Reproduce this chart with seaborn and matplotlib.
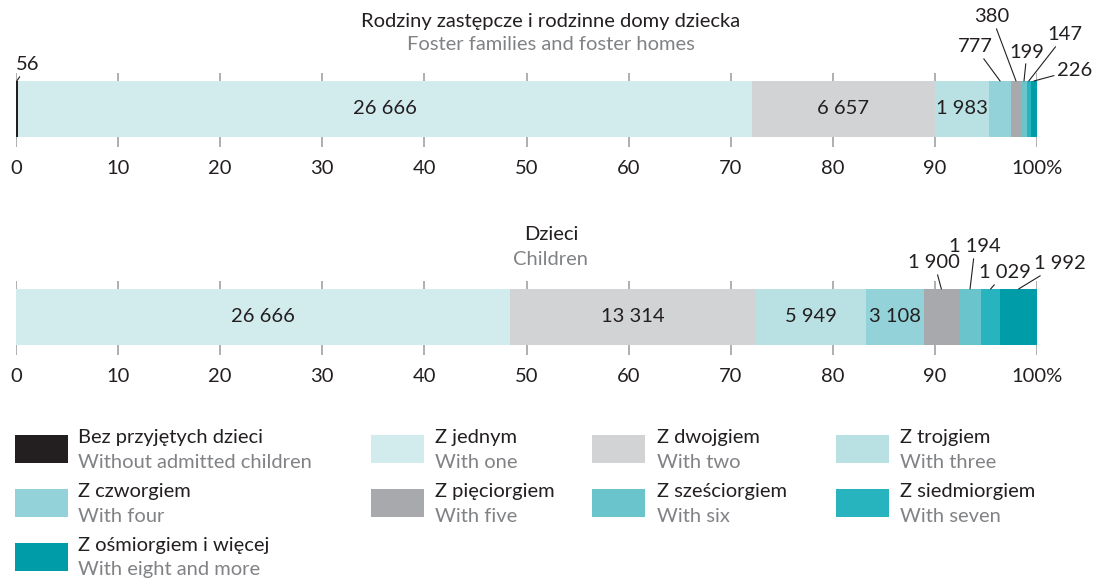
import matplotlib
matplotlib.use("Agg")
import matplotlib.pyplot as plt
from matplotlib.patches import Rectangle
import seaborn as sns
import pandas as pd
import numpy as np

labels_pl = ["Bez przyjętych dzieci", "Z jednym", "Z dwojgiem", "Z trojgiem",
             "Z czworgiem", "Z pięciorgiem", "Z sześciorgiem", "Z siedmiorgiem",
             "Z ośmiorgiem i więcej"]
labels_en = ["Without admitted children", "With one", "With two", "With three",
             "With four", "With five", "With six", "With seven",
             "With eight and more"]
colors = ["#231f20", "#d2ebed", "#d1d3d4", "#b9e1e3", "#93d2d8",
          "#a7a9ac", "#69c5cb", "#27b4be", "#009ca8"]

families = [56, 26666, 6657, 1983, 777, 380, 199, 147, 226]
children = [0, 26666, 13314, 5949, 3108, 1900, 1194, 1029, 1992]

tick_labels = ["0", "10", "20", "30", "40", "50", "60", "70", "80", "90", "100%"]

DARK = "#231f20"
GREY_TXT = "#808285"
GRID = "#a7a9ac"
FS = 14.5

sns.set_theme(style="white")
plt.rcParams["font.family"] = ["Lato", "DejaVu Sans"]

W, H = 1102, 580
fig = plt.figure(figsize=(W / 100, H / 100), dpi=100)


def px_axes(x0, y0, x1, y1):
    return fig.add_axes([x0 / W, 1 - y1 / H, (x1 - x0) / W, (y1 - y0) / H])


def fmt(v):
    return f"{v:,}".replace(",", " ")


def draw_bar(ax, counts, inside, callouts, bar_top, bar_bot, ax_top, ax_bot):
    pct = np.array(counts) / sum(counts) * 100
    cum = np.cumsum(pct)
    df = pd.DataFrame({"cat": labels_en, "cum": cum, "row": "r"})
    sns.barplot(data=df, x="cum", y="row", hue="cat", hue_order=labels_en[::-1],
                palette=dict(zip(labels_en, colors)), saturation=1, dodge=False,
                width=0.8, linewidth=0, errorbar=None, legend=False, ax=ax)
    ppu = (bar_bot - bar_top) / 0.8
    ax.set_ylim(0.4 + (ax_bot - bar_bot) / ppu, -0.4 - (bar_top - ax_top) / ppu)
    ax.set_xlim(0, 100)
    ax.set_xticks(range(0, 101, 10))
    ax.set_xticklabels(tick_labels)
    ax.grid(axis="x", color=GRID, lw=1.3)
    ax.grid(axis="y", visible=False)
    ax.set_axisbelow(True)
    ax.set_yticks([])
    ax.set_xlabel("")
    ax.set_ylabel("")
    for s in ax.spines.values():
        s.set_visible(False)
    ax.tick_params(axis="x", length=0, pad=9, labelsize=FS, labelcolor=DARK)

    starts = cum - pct
    mids = starts + pct / 2
    for i in inside:
        ax.text(mids[i], 0, fmt(counts[i]), ha="center", va="center",
                fontsize=FS, color=DARK)
    for i, (dx, dy) in callouts.items():
        ax.annotate(fmt(counts[i]), xy=(mids[i], -0.4), xytext=(dx, dy),
                    textcoords="offset pixels", ha="center", va="center",
                    fontsize=FS, color=DARK,
                    arrowprops=dict(arrowstyle="-", color=DARK, lw=0.8,
                                    shrinkA=0, shrinkB=0))


ax1 = px_axes(16, 73, 1037, 147)
draw_bar(ax1, families, [1, 2, 3],
         {0: (11, 16), 4: (-25, 34), 5: (-24, 64), 6: (3, 29), 7: (36, 46), 8: (41, 11)},
         81, 137, 73, 147)

ax2 = px_axes(16, 281, 1037, 355)
draw_bar(ax2, children, [1, 2, 3, 4],
         {5: (-7, 26), 6: (5, 42), 7: (14, 16), 8: (41, 25)},
         289, 345, 281, 355)

fig.text(0.5, 1 - 21 / H, "Rodziny zastępcze i rodzinne domy dziecka",
         ha="center", va="center", fontsize=FS, color=DARK)
fig.text(0.5, 1 - 45 / H, "Foster families and foster homes",
         ha="center", va="center", fontsize=FS, color=GREY_TXT)
fig.text(0.5, 1 - 235 / H, "Dzieci", ha="center", va="center", fontsize=FS, color=DARK)
fig.text(0.5, 1 - 259 / H, "Children", ha="center", va="center", fontsize=FS, color=GREY_TXT)

# legend drawn in pixel space
leg = fig.add_axes([0, 0, 1, 1])
leg.set_xlim(0, W)
leg.set_ylim(H, 0)
leg.axis("off")
col_patch = [15, 371, 592, 836]
col_text = [78, 435, 657, 900]
row_top = [435, 489, 543]
for i, (pl, en, c) in enumerate(zip(labels_pl, labels_en, colors)):
    r, k = divmod(i, 4)
    leg.add_patch(Rectangle((col_patch[k], row_top[r]), 53, 28, color=c, lw=0))
    leg.text(col_text[k], row_top[r] + 2, pl, ha="left", va="center",
             fontsize=FS, color=DARK)
    leg.text(col_text[k], row_top[r] + 27, en, ha="left", va="center",
             fontsize=FS, color=GREY_TXT)

fig.savefig("out.png", dpi=100)
